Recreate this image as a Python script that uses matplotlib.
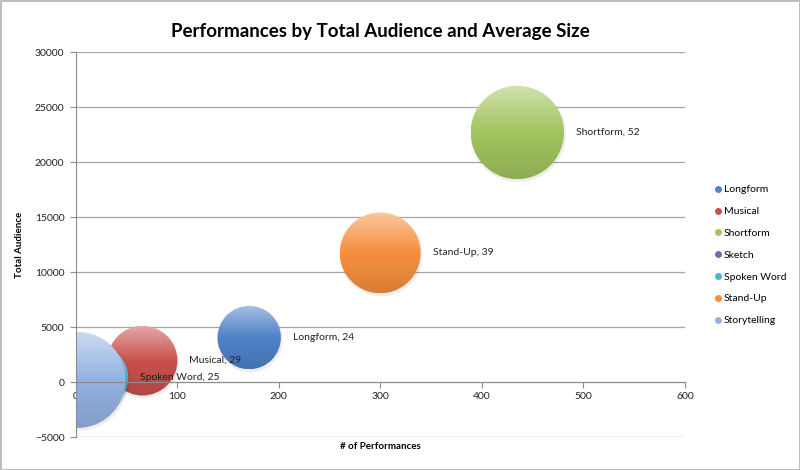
import numpy as np
import matplotlib
matplotlib.use("Agg")
import matplotlib.pyplot as plt
from matplotlib.patches import Ellipse
from matplotlib.lines import Line2D
from matplotlib.colors import to_rgb, LinearSegmentedColormap

plt.rcParams['font.family'] = ['Lato', 'DejaVu Sans']

# data
genres = ["Longform", "Musical", "Shortform", "Sketch", "Spoken Word", "Stand-Up", "Storytelling"]
performances = [171, 66, 435, 3, 20, 300, 2]
total_audience = [4050, 1950, 22700, 150, 400, 11750, 200]
avg_size = [24, 29, 52, 20, 25, 39, 55]
show_label = [True, True, True, False, True, True, False]

colors = ["#4f82c8", "#c8504c", "#a2c45e", "#8064a2", "#4bb4d2", "#f68f3e", "#93b2e2"]

bubble_scale = 6.47  # pixel radius per sqrt(size)

fig = plt.figure(figsize=(8, 4.7), dpi=100)
fig.patch.set_edgecolor("#bdbdbd")
fig.patch.set_linewidth(2)
ax = fig.add_axes([0.0944, 0.070, 0.7617, 0.819])

xmin, xmax, ymin, ymax = 0, 600, -5000, 30000
ax.set_xlim(xmin, xmax)
ax.set_ylim(ymin, ymax)

bbox = ax.get_window_extent()
px_x = bbox.width / (xmax - xmin)
px_y = bbox.height / (ymax - ymin)

for i, name in enumerate(genres):
    x, y = performances[i], total_audience[i]
    r = bubble_scale * np.sqrt(avg_size[i])
    rx, ry = r / px_x, r / px_y
    base = np.array(to_rgb(colors[i]))
    light = base + (1 - base) * 0.5
    dark = base * 0.88
    z = 1.2 + i * 0.1

    # soft shadow
    sh = Ellipse((x + 1 / px_x, y - 2 / px_y), 2 * rx + 2 / px_x, 2 * ry + 2 / px_y,
                 facecolor="#000000", alpha=0.07, edgecolor="none", zorder=z)
    ax.add_patch(sh)

    circ = Ellipse((x, y), 2 * rx, 2 * ry, facecolor="none", edgecolor="none", zorder=z)
    ax.add_patch(circ)
    cmap = LinearSegmentedColormap.from_list("g%d" % i, [light, base, dark])
    grad = np.linspace(0, 1, 100).reshape(-1, 1)
    im = ax.imshow(grad, extent=[x - rx, x + rx, y - ry, y + ry], cmap=cmap,
                   aspect="auto", origin="upper", zorder=z + 0.01, interpolation="bicubic")
    im.set_clip_path(circ)

    if show_label[i]:
        ax.annotate(f"{name}, {avg_size[i]}", (x, y), xytext=((r + 12) * 0.72, 0),
                    textcoords="offset points", ha="left", va="center",
                    fontsize=7.5, color="#222222", zorder=10)

ax.set_xlim(xmin, xmax)
ax.set_ylim(ymin, ymax)
ax.set_xticks(np.arange(0, 601, 100))
ax.set_yticks(np.arange(-5000, 30001, 5000))

for yv in np.arange(-5000, 30001, 5000):
    ax.axhline(yv, color="#a6a6a6", lw=0.9, zorder=0.5)

for s in ["top", "right"]:
    ax.spines[s].set_visible(False)
ax.spines["left"].set_color("#8c8c8c")
ax.spines["bottom"].set_color("#8c8c8c")
ax.spines["bottom"].set_position(("data", 0))
ax.tick_params(axis="both", colors="#8c8c8c", labelcolor="#222222", labelsize=7.5,
               length=4, width=0.8)
ax.tick_params(axis="y", pad=4)
ax.tick_params(axis="x", pad=3)

ax.set_title("Performances by Total Audience and Average Size", fontsize=13.5,
             fontweight="bold", pad=11, x=0.5)
ax.set_ylabel("Total Audience", fontsize=7, fontweight="bold", labelpad=8)
fig.text(0.475, 0.051, "# of Performances", fontsize=7, fontweight="bold",
         ha="center", va="center")

handles = [Line2D([0], [0], marker="o", color="none", markerfacecolor=c,
                  markeredgecolor="none", markersize=5) for c in colors]
fig.legend(handles, genres, loc="center left", bbox_to_anchor=(0.88, 0.457),
           frameon=False, fontsize=7.5, labelspacing=1.2, handletextpad=0.1,
           handlelength=0.9)

fig.savefig("out.png", dpi=100)
